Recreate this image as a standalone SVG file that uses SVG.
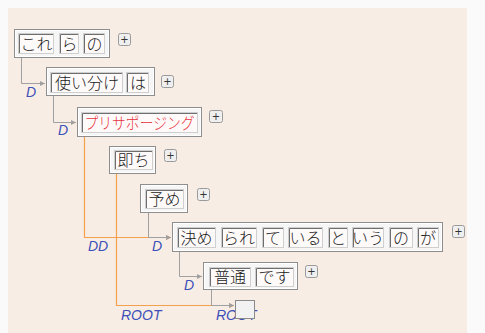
<svg xmlns="http://www.w3.org/2000/svg" width="485" height="333" viewBox="0 0 485 333">
<defs>
<style>
.bg{fill:#f8ede5}
.nb{fill:#f6f6f6;stroke:#8e8e8e;stroke-width:1}
.nh{fill:none;stroke:#ffffff;stroke-width:1}
.tk{fill:#fffafa;stroke:#cfcfcf;stroke-width:1}
.ti{fill:none;stroke:#6e6e6e;stroke-width:1}
.jt{font-family:"Noto Sans CJK JP","Noto Sans",sans-serif;font-size:16px;font-weight:300;fill:#1a1a1a;text-anchor:middle}
.red{fill:#e8323c}
.pb{fill:#efefef;stroke:#9a9a9a;stroke-width:1}
.pt{font-family:"DejaVu Sans",sans-serif;font-size:10px;fill:#333;text-anchor:middle}
.eg{fill:none;stroke:#a0a0a0;stroke-width:1}
.eo{fill:none;stroke:#f4a04c;stroke-width:1.2}
.lb{font-family:"Liberation Sans",Arial,sans-serif;font-style:italic;font-size:14px;fill:#3c50b8}
.rb{fill:#f2f2f2;stroke:#8a8a8a;stroke-width:1}
</style>
<marker id="ag" markerWidth="6" markerHeight="6" refX="5" refY="3" orient="auto" markerUnits="userSpaceOnUse">
<path d="M0,0.5 L5,3 L0,5.5 Z" fill="#a0a0a0"/>
</marker>
<marker id="ao" markerWidth="6" markerHeight="6" refX="5" refY="3" orient="auto" markerUnits="userSpaceOnUse">
<path d="M0,0.5 L5,3 L0,5.5 Z" fill="#f4a04c"/>
</marker>
</defs>
<rect x="0" y="0" width="485" height="333" fill="#fafafa"/>
<rect class="bg" x="8" y="8" width="459" height="325"/>

<g id="connectors">
<path class="eo" d="M84.5 136 V237.5 H171" marker-end="url(#ao)"/>
<path class="eo" d="M116.5 173 V305.5 H234" marker-end="url(#ao)"/>
<path class="eg" d="M21.5 57 V83.5 H45" marker-end="url(#ag)"/>
<path class="eg" d="M53.5 95 V122.5 H76" marker-end="url(#ag)"/>
<path class="eg" d="M148.5 212 V237.5 H171" marker-end="url(#ag)"/>
<path class="eg" d="M179.5 251 V276.5 H202" marker-end="url(#ag)"/>
<path class="eg" d="M211.5 289 V305.5 H234" marker-end="url(#ag)"/>
<text class="lb" x="26" y="97">D</text>
<text class="lb" x="58" y="135">D</text>
<text class="lb" x="88" y="251">DD</text>
<text class="lb" x="152" y="251">D</text>
<text class="lb" x="184" y="290">D</text>
<text class="lb" x="121" y="320">ROOT</text>
<text class="lb" x="216" y="320">ROOT</text>
</g>

<g id="node1">
<rect class="nb" x="14.5" y="29.5" width="95" height="28"/>
<rect class="nh" x="15.5" y="30.5" width="93" height="26"/>
<rect class="tk" x="18.5" y="33.5" width="35" height="20"/><path class="ti" d="M19.5 53 V34.5 H53"/>
<text class="jt" x="36.5" y="49.5">これ</text>
<rect class="tk" x="59.5" y="33.5" width="19" height="20"/><path class="ti" d="M60.5 53 V34.5 H78"/>
<text class="jt" x="69.5" y="49.5">ら</text>
<rect class="tk" x="83.5" y="33.5" width="21" height="20"/><path class="ti" d="M84.5 53 V34.5 H104"/>
<text class="jt" x="94.5" y="49.5">の</text>
<rect class="pb" x="118.5" y="33.5" width="12" height="12" rx="2"/>
<text class="pt" x="124.5" y="43">+</text>
</g>

<g id="node2">
<rect class="nb" x="46.5" y="67.5" width="108" height="28"/>
<rect class="nh" x="47.5" y="68.5" width="106" height="26"/>
<rect class="tk" x="50.5" y="72.5" width="72" height="20"/><path class="ti" d="M51.5 92 V73.5 H122"/>
<text class="jt" x="87" y="88.5">使い分け</text>
<rect class="tk" x="126.5" y="72.5" width="22" height="20"/><path class="ti" d="M127.5 92 V73.5 H148"/>
<text class="jt" x="138" y="88.5">は</text>
<rect class="pb" x="161.5" y="75.5" width="12" height="12" rx="2"/>
<text class="pt" x="167.5" y="85">+</text>
</g>

<g id="node3">
<rect class="nb" x="77.5" y="107.5" width="124" height="29"/>
<rect class="nh" x="78.5" y="108.5" width="122" height="27"/>
<rect class="tk" x="81.5" y="112.5" width="116" height="20"/><path class="ti" d="M82.5 132 V113.5 H197"/>
<text class="jt red" x="139.5" y="128.5" textLength="110" lengthAdjust="spacingAndGlyphs">プリサポージング</text>
<rect class="pb" x="209.5" y="110.5" width="13" height="12" rx="2"/>
<text class="pt" x="216" y="120">+</text>
</g>

<g id="node4">
<rect class="nb" x="109.5" y="146.5" width="46" height="27"/>
<rect class="nh" x="110.5" y="147.5" width="44" height="25"/>
<rect class="tk" x="114.5" y="150.5" width="38" height="19"/><path class="ti" d="M115.5 169 V151.5 H152"/>
<text class="jt" x="133.5" y="166">即ち</text>
<rect class="pb" x="164.5" y="149.5" width="12" height="12" rx="2"/>
<text class="pt" x="170.5" y="159">+</text>
</g>

<g id="node5">
<rect class="nb" x="140.5" y="184.5" width="47" height="28"/>
<rect class="nh" x="141.5" y="185.5" width="45" height="26"/>
<rect class="tk" x="145.5" y="189.5" width="38" height="19"/><path class="ti" d="M146.5 208 V190.5 H183"/>
<text class="jt" x="164.5" y="205">予め</text>
<rect class="pb" x="197.5" y="188.5" width="12" height="12" rx="2"/>
<text class="pt" x="203.5" y="198">+</text>
</g>

<g id="node6">
<rect class="nb" x="172.5" y="222.5" width="270" height="29"/>
<rect class="nh" x="173.5" y="223.5" width="268" height="27"/>
<rect class="tk" x="177.5" y="227.5" width="38" height="20"/><path class="ti" d="M178.5 247 V228.5 H215"/>
<text class="jt" x="196.5" y="243.5">決め</text>
<rect class="tk" x="221.5" y="227.5" width="35" height="20"/><path class="ti" d="M222.5 247 V228.5 H256"/>
<text class="jt" x="239" y="243.5">られ</text>
<rect class="tk" x="262.5" y="227.5" width="21" height="20"/><path class="ti" d="M263.5 247 V228.5 H283"/>
<text class="jt" x="273" y="243.5">て</text>
<rect class="tk" x="288.5" y="227.5" width="34" height="20"/><path class="ti" d="M289.5 247 V228.5 H322"/>
<text class="jt" x="305.5" y="243.5">いる</text>
<rect class="tk" x="328.5" y="227.5" width="19" height="20"/><path class="ti" d="M329.5 247 V228.5 H347"/>
<text class="jt" x="338" y="243.5">と</text>
<rect class="tk" x="352.5" y="227.5" width="31" height="20"/><path class="ti" d="M353.5 247 V228.5 H383"/>
<text class="jt" x="368" y="243.5">いう</text>
<rect class="tk" x="389.5" y="227.5" width="23" height="20"/><path class="ti" d="M390.5 247 V228.5 H412"/>
<text class="jt" x="401" y="243.5">の</text>
<rect class="tk" x="417.5" y="227.5" width="21" height="20"/><path class="ti" d="M418.5 247 V228.5 H438"/>
<text class="jt" x="428" y="243.5">が</text>
<rect class="pb" x="452.5" y="225.5" width="12" height="12" rx="2"/>
<text class="pt" x="458.5" y="235">+</text>
</g>

<g id="node7">
<rect class="nb" x="203.5" y="262.5" width="94" height="27"/>
<rect class="nh" x="204.5" y="263.5" width="92" height="25"/>
<rect class="tk" x="209.5" y="267.5" width="41" height="19"/><path class="ti" d="M210.5 286 V268.5 H250"/>
<text class="jt" x="230" y="283">普通</text>
<rect class="tk" x="255.5" y="267.5" width="38" height="19"/><path class="ti" d="M256.5 286 V268.5 H293"/>
<text class="jt" x="274.5" y="283">です</text>
<rect class="pb" x="305.5" y="265.5" width="12" height="12" rx="2"/>
<text class="pt" x="311.5" y="275">+</text>
</g>

<g id="root">
<rect class="rb" x="235.5" y="300.5" width="19" height="18"/>
</g>
</svg>
